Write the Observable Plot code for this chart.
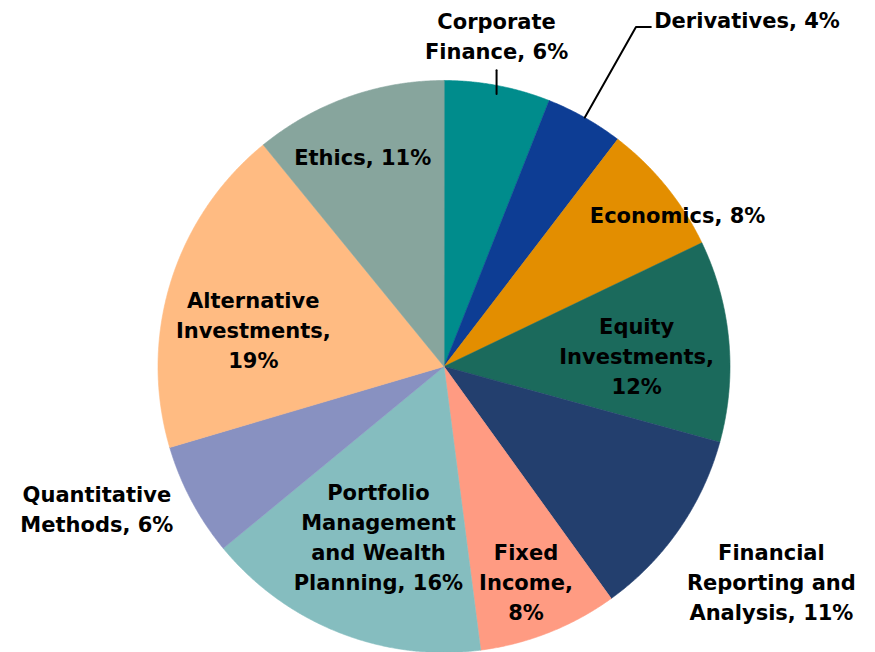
<!DOCTYPE html>
<html><head><meta charset="utf-8">
<script src="https://cdn.jsdelivr.net/npm/d3@7"></script>
<script src="https://cdn.jsdelivr.net/npm/@observablehq/plot@0.6"></script>
<style>html,body{margin:0;padding:0;background:#fff}</style>
</head><body><div id="chart"></div>
<script>
// ---- data (clockwise from 12 o'clock) ----
const topics = ["Corporate Finance","Derivatives","Economics","Equity Investments","Financial Reporting and Analysis","Fixed Income","Portfolio Management and Wealth Planning","Quantitative Methods","Alternative Investments","Ethics"];
const shares = [6.0, 4.4, 7.5, 11.4, 10.8, 7.9, 16.1, 6.4, 18.7, 10.9];
const labelText = ["Corporate\nFinance, 6%","Derivatives, 4%","Economics, 8%","Equity\nInvestments,\n12%","Financial\nReporting and\nAnalysis, 11%","Fixed\nIncome,\n8%","Portfolio\nManagement\nand Wealth\nPlanning, 16%","Quantitative\nMethods, 6%","Alternative\nInvestments,\n19%","Ethics, 11%"];
const colors = ["#008C8C","#0D3D94","#E38E00","#1B6A5C","#233F6E","#FF9B82","#85BDBF","#8891C1","#FFBB82","#87A59D"];
// label placement (polar, degrees clockwise from top; radius as fraction of pie radius)
const labelAngle = [9.0, 41.0, 56.8, 86.4, 123.2, 159.0, 201.2, 247.9, 281.3, 338.9];
const labelRadius = [1.175, 1.615, 0.976, 0.675, 1.368, 0.80, 0.634, 1.31, 0.68, 0.79];

const rad = d => d * Math.PI / 180;
const arcs = d3.pie().sort(null).value(d => d)(shares);

// slice polygons in unit-circle coordinates
const slicePts = [];
arcs.forEach((a, i) => {
  const n = Math.max(4, Math.ceil((a.endAngle - a.startAngle) / (Math.PI / 720)));
  slicePts.push({topic: topics[i], x: 0, y: 0});
  for (let k = 0; k <= n; k++) {
    const t = a.startAngle + (a.endAngle - a.startAngle) * k / n;
    slicePts.push({topic: topics[i], x: Math.sin(t), y: Math.cos(t)});
  }
});

const labels = topics.map((t, i) => ({
  topic: t, text: labelText[i],
  x: Math.sin(rad(labelAngle[i])) * labelRadius[i],
  y: Math.cos(rad(labelAngle[i])) * labelRadius[i]
}));

// leader lines
const leaders = [];
{ // Corporate Finance: vertical line from under label to pie edge
  const L = labels[0];
  const xe = L.x;
  leaders.push({id: 0, x: xe, y: L.y - 0.125});
  leaders.push({id: 0, x: xe, y: Math.sqrt(1 - xe * xe) - 0.03});
}
{ // Derivatives: from slice edge along mid-angle, then horizontal to label
  const a = arcs[1], mid = (a.startAngle + a.endAngle) / 2;
  const L = labels[1];
  const ey = L.y - 0.032;
  const ex = Math.tan(mid) * ey;
  leaders.push({id: 1, x: Math.sin(mid) * 1.0, y: Math.cos(mid) * 1.0});
  leaders.push({id: 1, x: ex, y: ey});
  leaders.push({id: 1, x: ex + 0.052, y: ey});
}

const font = "'DejaVu Sans', sans-serif";
const chart = Plot.plot({
  width: 875, height: 652,
  marginLeft: 157.5, marginRight: 145.5, marginTop: 80, marginBottom: 0,
  x: {domain: [-1, 1], axis: null},
  y: {domain: [-1, 1], axis: null},
  color: {domain: topics, range: colors},
  style: {background: "#fff", overflow: "visible"},
  marks: [
    Plot.line(slicePts, {x: "x", y: "y", z: "topic", fill: "topic", stroke: "topic", strokeWidth: 0.6, curve: "linear-closed"}),
    Plot.line(leaders, {x: "x", y: "y", z: "id", stroke: "#000", strokeWidth: 2}),
    Plot.text(labels, {x: "x", y: "y", text: "text", fontSize: 21, fontWeight: "bold", lineHeight: 1.43, fill: "#000", fontFamily: font})
  ]
});
document.getElementById("chart").appendChild(chart);
</script>
</body></html>
